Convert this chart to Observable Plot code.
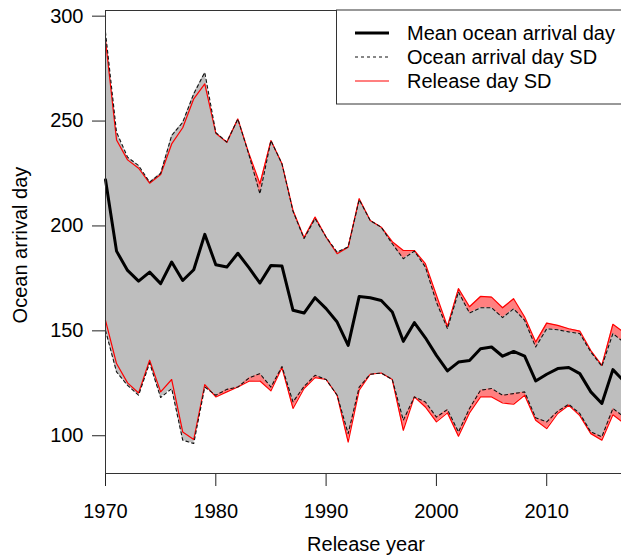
<!DOCTYPE html>
<html><head><meta charset="utf-8">
<script src="https://cdn.jsdelivr.net/npm/d3@7"></script>
<script src="https://cdn.jsdelivr.net/npm/@observablehq/plot@0.6"></script>
<style>
body{margin:0;background:#fff;}
#wrap{position:relative;width:621px;height:558px;}
</style>
</head><body><div id="wrap"></div>
<script>
// Release years
const years = [1970,1971,1972,1973,1974,1975,1976,1977,1978,1979,
  1980,1981,1982,1983,1984,1985,1986,1987,1988,1989,
  1990,1991,1992,1993,1994,1995,1996,1997,1998,1999,
  2000,2001,2002,2003,2004,2005,2006,2007,2008,2009,
  2010,2011,2012,2013,2014,2015,2016,2017];
// Mean ocean arrival day
const meanArrival = [222,188,178.8,173.7,178,172.5,182.8,174,179.1,196,
  181.5,180.4,187,180.1,172.8,181.2,180.9,159.8,158.5,165.8,
  160.6,154.2,143.1,166.4,165.8,164.5,159,145,153.9,146.7,
  138.3,130.9,135.1,135.9,141.5,142.3,137.9,140.2,137.9,126.1,
  129.3,132,132.5,129.6,120.9,115.4,131.5,126];
// Ocean arrival day SD band (upper / lower)
const oceanUpper = [292.3,244.7,232.8,228.8,220.9,225.1,243.1,249.4,263,273.2,
  244.5,240,251,234,215.3,240.7,229.6,207,194,203.5,
  194.7,187.5,190,212.5,202.6,199.4,191.5,184.4,188,180.4,
  163.7,151,168.5,158.5,161,161,156.3,160.5,155,142.3,
  151,150.5,149.5,148.7,139.9,133.1,148.7,144.5];
const oceanLower = [150.2,130.4,124,119.3,134.7,118.2,122.5,97.9,96.3,123.2,
  119.3,122.1,123.2,127.5,129.6,123.2,133,116.1,123.5,128.8,
  126.8,119.3,101,123.2,129.3,129.9,126.8,107.4,118.5,116.1,
  108.9,112.5,101.8,113,121.7,122.5,119.3,120.1,120.9,108.6,
  106.6,111.7,115,110.6,101.8,99.5,113,109];
// Release day SD band (upper / lower)
const releaseUpper = [288.7,241,231.5,227.5,220.4,224.5,239.1,246.8,260.6,267.7,
  244.2,239.9,251,234.5,220.1,240.7,229.6,207.4,194.4,204.2,
  194.7,186.8,189.9,213,202.6,199.4,192.5,188.3,188.3,182,
  167,152.1,170.1,161.5,166.4,166.1,161,165.3,156.6,144.7,
  153.7,152.6,151,149.9,140.6,133.5,153.1,149.3];
const releaseLower = [155,134.4,125.2,120.4,136,120.9,126.8,101.8,98.2,124.4,
  118.5,120.9,123.2,126,126.1,121.4,132.5,113,122.5,127.7,
  126.8,119.3,97,121.7,129.3,129.9,126.8,102.6,118.5,113.7,
  106.6,110.9,99.8,110.9,118.5,118.5,115.6,115,119.3,107.4,
  103.4,110.6,114.5,109.6,101,97.9,110,106];

const xTicks = [1970,1980,1990,2000,2010];
const yTicks = [100,150,200,250,300];
const xDomain = [1970, 2016.78];
const yDomain = [82.0, 302.7];
const legendLabels = ["Mean ocean arrival day","Ocean arrival day SD","Release day SD"];
const xTitle = "Release year";
const yTitle = "Ocean arrival day";

const rows = years.map((year,i)=>({year, mean:meanArrival[i], ocHi:oceanUpper[i], ocLo:oceanLower[i], relHi:releaseUpper[i], relLo:releaseLower[i]}));

const FONT = "'Liberation Sans', Arial, sans-serif";
const chart = Plot.plot({
  width:621, height:558,
  marginLeft:105, marginRight:0, marginTop:10, marginBottom:85,
  style:{fontFamily:FONT, fontSize:"20px", color:"#222", background:"#fff", overflow:"hidden"},
  x:{domain:xDomain, ticks:xTicks, tickFormat:d=>String(d), tickSize:13, tickPadding:17, label:null},
  y:{domain:yDomain, ticks:yTicks, tickSize:13, tickPadding:9, label:null},
  marks:[
    Plot.areaY(rows,{x:"year", y1:"relLo", y2:"relHi", fill:"#FF8080"}),
    Plot.areaY(rows,{x:"year", y1:"ocLo", y2:"ocHi", fill:"#BEBEBE"}),
    Plot.lineY(rows,{x:"year", y:"relHi", stroke:"#FF0000", strokeWidth:1.2}),
    Plot.lineY(rows,{x:"year", y:"relLo", stroke:"#FF0000", strokeWidth:1.2}),
    Plot.lineY(rows,{x:"year", y:"ocHi", stroke:"#111", strokeWidth:1.1, strokeDasharray:"3,3"}),
    Plot.lineY(rows,{x:"year", y:"ocLo", stroke:"#111", strokeWidth:1.1, strokeDasharray:"3,3"}),
    Plot.lineY(rows,{x:"year", y:"mean", stroke:"#000", strokeWidth:3, strokeLinejoin:"round"}),
    Plot.ruleY(yDomain,{stroke:"#333", strokeWidth:1}),
    Plot.ruleX([xDomain[0]],{stroke:"#333", strokeWidth:1})
  ]
});
chart.querySelectorAll("text").forEach(t=>t.setAttribute("fill","#000"));

const svg = d3.select(chart);
// axis titles
svg.append("text").attr("x",366).attr("y",551).attr("text-anchor","middle")
  .attr("font-family",FONT).attr("font-size",20).attr("fill","#000").text(xTitle);
svg.append("text").attr("transform","translate(27,245) rotate(-90)").attr("text-anchor","middle")
  .attr("font-family",FONT).attr("font-size",20).attr("fill","#000").text(yTitle);

// legend
const lg = svg.append("g").attr("text-anchor","start");
lg.append("rect").attr("x",336.5).attr("y",10).attr("width",300).attr("height",94)
  .attr("fill","#fff").attr("stroke","#333").attr("stroke-width",1);
const lstyles = [
  {stroke:"#000", w:3, dash:null},
  {stroke:"#111", w:1.1, dash:"3,3"},
  {stroke:"#FF0000", w:1.2, dash:null}
];
legendLabels.forEach((lab,i)=>{
  const cy = 33 + i*24;
  const ln = lg.append("line").attr("x1",355).attr("x2",389).attr("y1",cy).attr("y2",cy)
    .attr("stroke",lstyles[i].stroke).attr("stroke-width",lstyles[i].w);
  if (lstyles[i].dash) ln.attr("stroke-dasharray",lstyles[i].dash);
  lg.append("text").attr("x",407).attr("y",cy).attr("dy","0.35em").attr("text-anchor","start")
    .attr("font-family",FONT).attr("font-size",20).attr("fill","#000").text(lab);
});

document.getElementById("wrap").appendChild(chart);
</script>
</body></html>
